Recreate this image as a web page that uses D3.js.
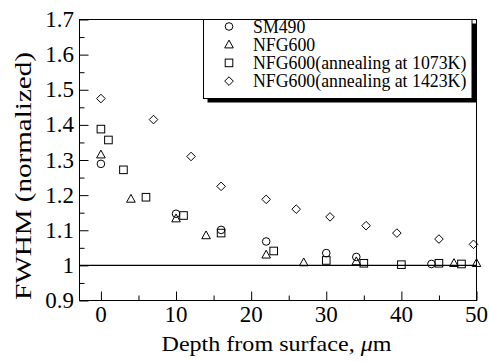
<!DOCTYPE html>
<html>
<head>
<meta charset="utf-8">
<script src="https://cdn.jsdelivr.net/npm/d3@7"></script>
<style>
  body { margin: 0; background: #fff; }
  text { font-family: "Liberation Serif", "Times New Roman", serif; fill: #000; }
</style>
</head>
<body>
<script>
// data
var seriesNames = ["SM490", "NFG600", "NFG600(annealing at 1073K)", "NFG600(annealing at 1423K)"];
var symbols = ["circle", "triangle", "square", "diamond"];

var sm490X = [0, 10, 16, 22, 30, 34, 44];
var sm490Y = [1.289, 1.147, 1.101, 1.068, 1.035, 1.024, 1.004];

var nfgX = [0, 4, 10, 14, 22, 27, 34, 47, 50];
var nfgY = [1.315, 1.189, 1.133, 1.085, 1.030, 1.008, 1.011, 1.006, 1.006];

var ann1073X = [0, 1, 3, 6, 11, 16, 23, 30, 35, 40, 45, 48];
var ann1073Y = [1.388, 1.357, 1.272, 1.194, 1.142, 1.092, 1.041, 1.014, 1.006, 1.002, 1.006, 1.004];

var ann1423X = [0, 7, 12, 16, 22, 26, 30.5, 35.3, 39.4, 45, 49.6];
var ann1423Y = [1.475, 1.415, 1.31, 1.225, 1.188, 1.16, 1.138, 1.113, 1.092, 1.075, 1.06];

var xTicks = [0, 10, 20, 30, 40, 50];
var yTicks = [0.9, 1, 1.1, 1.2, 1.3, 1.4, 1.5, 1.6, 1.7];
var yTickLabels = ["0.9", "1", "1.1", "1.2", "1.3", "1.4", "1.5", "1.6", "1.7"];

var width = 489, height = 362;
var plotL = 79.5, plotR = 476.5, plotT = 19.5, plotB = 300.5;

var svg = d3.select("body").append("svg")
    .attr("width", width)
    .attr("height", height);

var x = d3.scaleLinear().domain([-2.85, 50]).range([plotL, plotR]);
var y = d3.scaleLinear().domain([0.9, 1.7]).range([plotB, plotT]);

// frame
svg.append("rect")
    .attr("x", plotL).attr("y", plotT)
    .attr("width", plotR - plotL).attr("height", plotB - plotT)
    .attr("fill", "none").attr("stroke", "#000").attr("stroke-width", 1);

// ticks (inside)
var xAxis = d3.axisBottom(x).tickValues(d3.range(0, 51, 5)).tickSize(-5).tickFormat("");
var gx = svg.append("g").attr("transform", "translate(0," + plotB + ")").call(xAxis);
gx.select(".domain").remove();
gx.selectAll(".tick line").attr("y2", function(d) { return d % 10 === 0 ? -9 : -5; });

var yAxis = d3.axisLeft(y).tickValues(d3.range(0.9, 1.701, 0.05)).tickSize(-5).tickFormat("");
var gy = svg.append("g").attr("transform", "translate(" + plotL + ",0)").call(yAxis);
gy.select(".domain").remove();
gy.selectAll(".tick line").attr("x2", function(d) {
    return Math.abs(Math.round(d * 10) - d * 10) < 0.001 ? 9 : 5;
});

// tick labels
svg.selectAll(".xlab").data(xTicks).enter().append("text")
    .attr("class", "xlab")
    .attr("x", function(d) { return x(d); })
    .attr("y", plotB + 21)
    .attr("text-anchor", "middle")
    .attr("font-size", "23px")
    .text(function(d) { return d; });

svg.selectAll(".ylab").data(yTicks).enter().append("text")
    .attr("class", "ylab")
    .attr("x", 74)
    .attr("y", function(d) { return y(d) + 7.5; })
    .attr("text-anchor", "end")
    .attr("font-size", "23px")
    .text(function(d, i) { return yTickLabels[i]; });

// axis titles
var xt = svg.append("text")
    .attr("x", 161.5)
    .attr("y", 351)
    .attr("font-size", "22px")
    .attr("textLength", 230)
    .attr("lengthAdjust", "spacingAndGlyphs");
xt.append("tspan").text("Depth from surface, ");
xt.append("tspan").attr("font-style", "italic").text("\u03bc");
xt.append("tspan").text("m");

svg.append("text")
    .attr("transform", "translate(31,176) rotate(-90)")
    .attr("text-anchor", "middle")
    .attr("font-size", "24px")
    .attr("textLength", 248)
    .attr("lengthAdjust", "spacingAndGlyphs")
    .text("FWHM (normalized)");

// reference line at 1
svg.append("line")
    .attr("x1", plotL).attr("x2", plotR)
    .attr("y1", y(1)).attr("y2", y(1))
    .attr("stroke", "#000").attr("stroke-width", 1.2);

// markers
function drawMarker(g, type, cx, cy) {
    if (type === "circle") {
        g.append("circle").attr("cx", cx).attr("cy", cy).attr("r", 3.8);
    } else if (type === "triangle") {
        g.append("path").attr("d", "M" + cx + "," + (cy - 4.6) + "L" + (cx + 4.3) + "," + (cy + 3.2) + "L" + (cx - 4.3) + "," + (cy + 3.2) + "Z");
    } else if (type === "square") {
        g.append("rect").attr("x", cx - 3.8).attr("y", cy - 3.8).attr("width", 7.6).attr("height", 7.6);
    } else {
        g.append("path").attr("d", "M" + cx + "," + (cy - 4.3) + "L" + (cx + 4.3) + "," + cy + "L" + cx + "," + (cy + 4.3) + "L" + (cx - 4.3) + "," + cy + "Z");
    }
}

var allX = [sm490X, nfgX, ann1073X, ann1423X];
var allY = [sm490Y, nfgY, ann1073Y, ann1423Y];

var marks = svg.append("g").attr("fill", "none").attr("stroke", "#000").attr("stroke-width", 1);
allX.forEach(function(xs, s) {
    xs.forEach(function(d, i) {
        drawMarker(marks, symbols[s], x(d), y(allY[s][i]));
    });
});

// legend with shadow
var lx = 203.5, ly = 19.5, lw = 268.5, lh = 79;
svg.append("rect").attr("x", lx + 4).attr("y", ly + 4).attr("width", lw).attr("height", lh).attr("fill", "#000");
svg.append("rect").attr("x", lx).attr("y", ly).attr("width", lw).attr("height", lh)
    .attr("fill", "#fff").attr("stroke", "#000").attr("stroke-width", 1);

var leg = svg.append("g").attr("fill", "none").attr("stroke", "#000").attr("stroke-width", 1);
seriesNames.forEach(function(name, i) {
    var cy = 26.5 + i * 18.2;
    drawMarker(leg, symbols[i], 229, cy);
    svg.append("text")
        .attr("x", 253)
        .attr("y", cy + 6)
        .attr("font-size", "17.8px")
        .text(name);
});
</script>
</body>
</html>
